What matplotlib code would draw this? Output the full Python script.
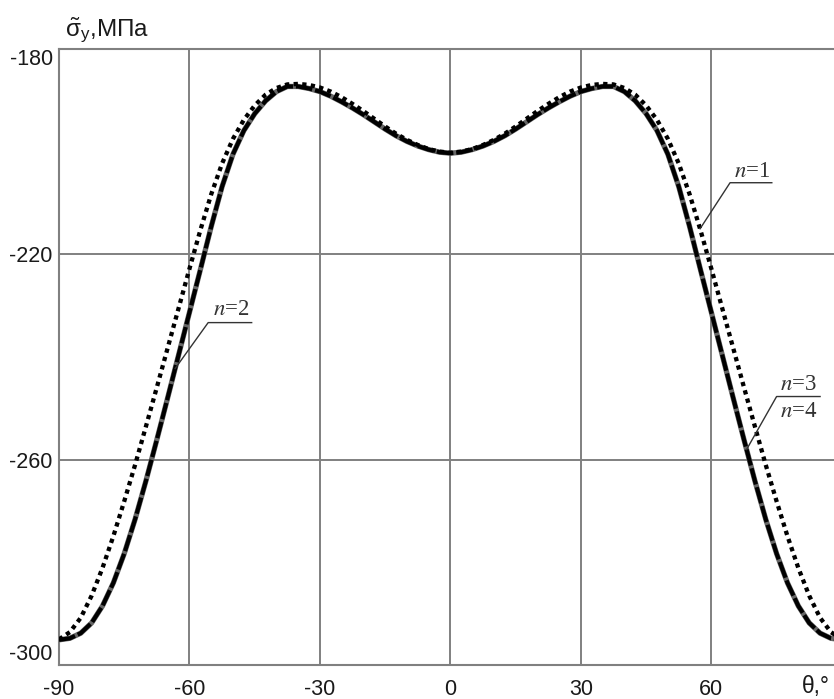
import numpy as np
import matplotlib
matplotlib.use('Agg')
import matplotlib.pyplot as plt

plt.rcParams['font.family'] = ['Liberation Sans', 'DejaVu Sans']
plt.rcParams['axes.unicode_minus'] = False
plt.rcParams['mathtext.fontset'] = 'custom'
plt.rcParams['mathtext.rm'] = 'Liberation Sans'
plt.rcParams['mathtext.it'] = 'Liberation Sans:italic'

theta_half = [0, 2.5, 5, 7.5, 10, 12.5, 15, 17.5, 20, 22.5, 25, 27.5, 30, 32.5,
              35, 37.5, 40, 42.5, 45, 47.5, 50, 52.5, 55, 57.5, 60, 62.5, 65,
              67.5, 70, 72.5, 75, 77.5, 80, 82.5, 85, 87.5, 90]

# n=1 (dotted)
n1_half = [-200.2, -200.0, -199.5, -198.7, -197.7, -196.5, -195.1, -193.6,
           -192.1, -190.7, -189.4, -188.3, -187.5, -187.0, -186.8, -186.9,
           -187.6, -188.9, -191.0, -193.8, -197.5, -202.3, -208.3, -215.3,
           -222.8, -230.5, -238.2, -245.9, -253.5, -261.0, -268.1, -274.9,
           -281.1, -286.5, -290.8, -293.6, -295.0]

# n=2, n=3, n=4 (practically coincide)
n234_half = [-200.3, -200.1, -199.6, -198.9, -198.0, -196.9, -195.6, -194.2,
             -192.8, -191.5, -190.3, -189.2, -188.3, -187.7, -187.3, -187.3,
             -188.3, -190.1, -192.6, -195.9, -200.5, -206.8, -214.6, -223.0,
             -231.3, -239.6, -247.9, -256.1, -264.1, -271.6, -278.3, -284.0,
             -288.5, -291.8, -293.8, -294.8, -295.1]

theta = [-t for t in theta_half[::-1]] + theta_half[1:]
n1 = n1_half[::-1] + n1_half[1:]
n234 = n234_half[::-1] + n234_half[1:]

x_ticks = [-90, -60, -30, 0, 30, 60]
y_ticks = [-300, -260, -220, -180]

fig = plt.figure(figsize=(8.34, 6.99), dpi=100)
ax = fig.add_axes([59 / 834, 34 / 699, 775 / 834, 616 / 699])

grid_c = '#808080'
ax.set_xlim(-90, 88.2)
ax.set_ylim(-300, -180)
ax.set_xticks(x_ticks)
ax.set_yticks(y_ticks)
ax.grid(True, color=grid_c, lw=1.4)
ax.set_axisbelow(True)
for s in ['left', 'bottom', 'top']:
    ax.spines[s].set_color(grid_c)
    ax.spines[s].set_linewidth(1.5)
ax.spines['right'].set_visible(False)
ax.tick_params(length=0, labelsize=15.5, labelcolor='#1a1a1a')
ax.tick_params(axis='x', pad=10)
ax.tick_params(axis='y', pad=4.5)
for lab, v in zip(ax.get_yticklabels(), y_ticks):
    if v == -180:
        lab.set_va('top')
    elif v == -300:
        lab.set_va('bottom')

# curves
ax.plot(theta, n234, color='#666666', lw=3.8, solid_capstyle='butt', zorder=3)
ax.plot(theta, n234, color='black', lw=3.0, linestyle=(0, (4, 0.7)), zorder=4)
ax.plot(theta, n1, color='black', lw=3.1, linestyle=(0, (1, 1)), zorder=5)

# leader lines: (series, tip theta, underline x0, x1, y)
leaders = [
    (n1, 57.4, 64.3, 73.9, -206.05),
    (n234, -63.3, -55.7, -45.7, -233.3),
    (n234, 68.1, 75.0, 85.0, -247.7),
]
lc = '#333333'
for ser, tip, x0, x1, yu in leaders:
    yt = np.interp(tip, theta, ser)
    ax.plot([tip, x0, x1], [yt, yu, yu], color=lc, lw=1.0, zorder=6)
for txt, x, y in [('$n$=1', 69.4, -204.9), ('$n$=2', -50.5, -231.8),
                  ('$n$=3', 80.0, -246.4), ('$n$=4', 80.0, -251.6)]:
    ax.text(x, y, txt, ha='center', va='baseline', fontsize=16.5,
            family='Liberation Serif', math_fontfamily='stix', color=lc,
            zorder=7)

# axis titles
fig.text(65 / 834, 1 - 36 / 699, r'$\tilde{\mathrm{\sigma}}_\mathrm{y}$,МПа',
         fontsize=17.5, va='baseline', ha='left', color='#1a1a1a')
fig.text(802 / 834, 1 - 693 / 699, 'θ,°', fontsize=16.5, va='baseline',
         ha='left', color='#1a1a1a')

fig.savefig('out.png', dpi=100)
